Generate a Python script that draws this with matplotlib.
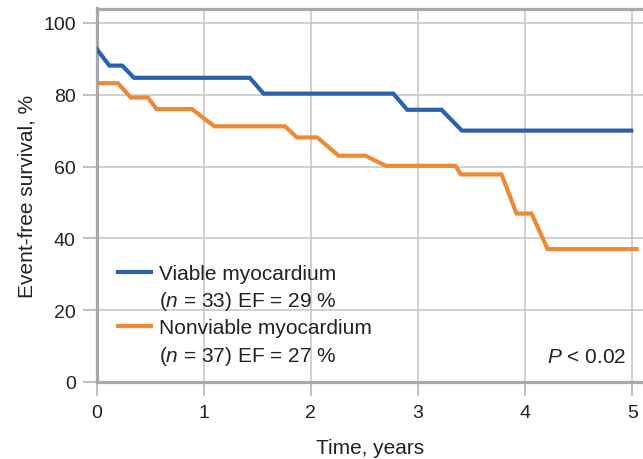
import matplotlib
matplotlib.use("Agg")
import matplotlib.pyplot as plt
from matplotlib.lines import Line2D

plt.rcParams['font.family'] = ['Liberation Sans', 'DejaVu Sans']
plt.rcParams['mathtext.fontset'] = 'custom'
plt.rcParams['mathtext.rm'] = 'Liberation Sans'
plt.rcParams['mathtext.it'] = 'Liberation Sans:italic'

# curve vertices (time in years, survival in %)
viable_t = [0.0, 0.12, 0.24, 0.35, 1.43, 1.56, 2.77, 2.90, 3.22, 3.41, 4.99]
viable_s = [92.8, 88.1, 88.1, 84.7, 84.7, 80.3, 80.3, 75.8, 75.8, 70.0, 70.0]

nonviable_t = [0.0, 0.20, 0.32, 0.48, 0.56, 0.89, 1.10, 1.76, 1.87, 2.06, 2.26,
               2.51, 2.70, 3.35, 3.40, 3.78, 3.92, 4.06, 4.21, 5.04]
nonviable_s = [83.2, 83.2, 79.2, 79.2, 76.0, 76.0, 71.2, 71.2, 68.1, 68.1, 63.0,
               63.0, 60.2, 60.2, 57.8, 57.8, 46.9, 46.9, 37.0, 37.0]

legend_labels = ["Viable myocardium", "($n$ = 33) EF = 29 %",
                 "Nonviable myocardium", "($n$ = 37) EF = 27 %"]
xticks = [0, 1, 2, 3, 4, 5]
yticks = [0, 20, 40, 60, 80, 100]

blue = '#2a62ad'
orange = '#ee8a35'
spine_gray = '#a6aaad'
grid_gray = '#c4c4c4'
text_col = '#222222'

W, H = 643, 460
fig = plt.figure(figsize=(W / 100, H / 100), dpi=100)
ax = fig.add_axes([96.5 / W, 1 - 383 / H, 1 - 96.5 / W, (383 - 9.5) / H])

ax.plot(viable_t, viable_s, color=blue, lw=3, solid_joinstyle='miter', zorder=3)
ax.plot(nonviable_t, nonviable_s, color=orange, lw=3, solid_joinstyle='miter', zorder=3)

ax.set_xlim(0, 5.10)
ax.set_ylim(0, 104)
ax.set_xticks(xticks)
ax.set_yticks(yticks)
ax.grid(True, color=grid_gray, lw=1.1)
ax.set_axisbelow(True)

for side in ['left', 'bottom', 'top']:
    ax.spines[side].set_color(spine_gray)
    ax.spines[side].set_linewidth(2.3)
ax.spines['right'].set_visible(False)

ax.tick_params(axis='both', length=10, width=1.1, color='#b0b0b0',
               labelsize=14, labelcolor=text_col, pad=5)
ax.tick_params(axis='x', pad=6)

ax.set_xlabel("Time, years", fontsize=15, color=text_col, labelpad=12)
ax.set_ylabel("Event-free survival, %", fontsize=15, color=text_col, labelpad=5)

handles = [Line2D([], [], color=blue, lw=3), Line2D([], [], linestyle='none'),
           Line2D([], [], color=orange, lw=3), Line2D([], [], linestyle='none')]
leg = ax.legend(handles, legend_labels, loc='upper left',
                bbox_to_anchor=(118 / W, 1 - 265 / H), bbox_transform=fig.transFigure,
                frameon=False, fontsize=15, handlelength=1.6, handletextpad=0.35,
                labelspacing=0.3, borderpad=0, borderaxespad=0)
for t in leg.get_texts():
    t.set_color(text_col)

fig.text(626 / W, 1 - 363 / H, "$P$ < 0.02", ha='right', va='baseline',
         fontsize=15, color=text_col)

fig.savefig("out.png", dpi=100)
